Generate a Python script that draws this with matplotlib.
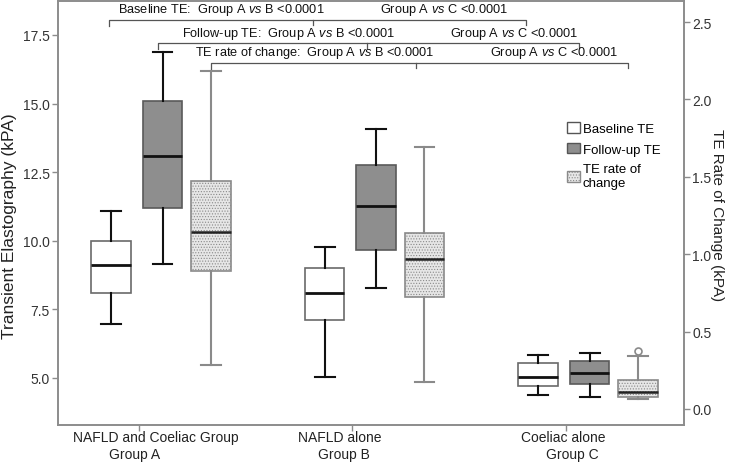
import matplotlib
matplotlib.use("Agg")
import matplotlib.pyplot as plt
from matplotlib.patches import Patch
from matplotlib import transforms

plt.rcParams['font.family'] = ['Liberation Sans', 'DejaVu Sans']
plt.rcParams['mathtext.fontset'] = 'custom'
plt.rcParams['mathtext.rm'] = 'Liberation Sans'
plt.rcParams['mathtext.it'] = 'Liberation Sans:italic'
plt.rcParams['hatch.linewidth'] = 0.5
plt.rcParams['hatch.color'] = '#b8b8b8'

GROUPS = ["NAFLD and Coeliac Group", "NAFLD alone", "Coeliac alone"]
GROUP_IDS = ["Group A", "Group B", "Group C"]
SERIES = ["Baseline TE", "Follow-up TE", "TE rate of\nchange"]

# whislo, q1, median, q3, whishi  -> left axis (kPA)
baseline = [[6.96, 8.09, 9.11, 9.98, 11.09],
            [5.03, 7.12, 8.11, 9.00, 9.76],
            [4.37, 4.72, 5.05, 5.55, 5.84]]
followup = [[9.17, 11.18, 13.09, 15.08, 16.89],
            [8.29, 9.68, 11.28, 12.76, 14.06],
            [4.30, 4.78, 5.17, 5.63, 5.91]]
# right axis (kPA change)
rate = [[0.286, 0.890, 1.143, 1.475, 2.185],
        [0.172, 0.724, 0.967, 1.139, 1.694],
        [0.065, 0.079, 0.112, 0.189, 0.344]]
rate_outliers = [[], [], [0.377]]

LEFT_TICKS = [5.0, 7.5, 10.0, 12.5, 15.0, 17.5]
RIGHT_TICKS = [0.0, 0.5, 1.0, 1.5, 2.0, 2.5]

# comparison annotations
ann_rows = [
    ("Baseline TE:  Group A $\\mathit{vs}$ B <0.0001", "Group A $\\mathit{vs}$ C <0.0001"),
    ("Follow-up TE:  Group A $\\mathit{vs}$ B <0.0001", "Group A $\\mathit{vs}$ C <0.0001"),
    ("TE rate of change:  Group A $\\mathit{vs}$ B <0.0001", "Group A $\\mathit{vs}$ C <0.0001"),
]

W, H = 730, 464


def fx(x):
    return x / W


def fy(y):
    return 1 - y / H


def make_stats(rows, fliers=None):
    out = []
    for i, r in enumerate(rows):
        out.append(dict(whislo=r[0], q1=r[1], med=r[2], q3=r[3], whishi=r[4],
                        fliers=fliers[i] if fliers else []))
    return out


fig = plt.figure(figsize=(7.3, 4.64), dpi=100)
ax = fig.add_axes([fx(58), 1 - 426 / H, 626 / W, 424 / H])
ax2 = ax.twinx()

grp = [0, 1, 2]
offs = [-0.13, 0.111, 0.337]
bw = 0.185

ax.bxp(make_stats(baseline), positions=[g + offs[0] for g in grp], widths=bw,
       patch_artist=True, manage_ticks=False,
       boxprops=dict(facecolor='white', edgecolor='#6a6a6a', linewidth=1.2),
       whiskerprops=dict(color='#111111', linewidth=1.5),
       capprops=dict(color='#111111', linewidth=1.5),
       medianprops=dict(color='#111111', linewidth=2))
ax.bxp(make_stats(followup), positions=[g + offs[1] for g in grp], widths=bw,
       patch_artist=True, manage_ticks=False,
       boxprops=dict(facecolor='#8e8e8e', edgecolor='#5a5a5a', linewidth=1.2),
       whiskerprops=dict(color='#111111', linewidth=1.5),
       capprops=dict(color='#111111', linewidth=1.5),
       medianprops=dict(color='#111111', linewidth=2))
ax2.bxp(make_stats(rate, rate_outliers), positions=[g + offs[2] for g in grp], widths=bw,
        patch_artist=True, manage_ticks=False,
        boxprops=dict(facecolor='#e6e6e6', edgecolor='#8a8a8a', linewidth=1.2, hatch='......'),
        whiskerprops=dict(color='#8a8a8a', linewidth=1.5),
        capprops=dict(color='#8a8a8a', linewidth=1.5),
        medianprops=dict(color='#222222', linewidth=1.8),
        flierprops=dict(marker='o', markerfacecolor='white', markeredgecolor='#8a8a8a',
                        markersize=5, markeredgewidth=1.2))

ax.set_xlim(-0.379, 2.553)
ax.set_ylim(3.287, 18.739)
ax2.set_ylim(-0.1034, 2.6357)

ax.set_xticks(grp)
ax.set_xticklabels([])
ax.set_yticks(LEFT_TICKS)
ax.set_yticklabels([f"{v:.1f}" for v in LEFT_TICKS])
ax2.set_yticks(RIGHT_TICKS)
ax2.set_yticklabels([f"{v:.1f}" for v in RIGHT_TICKS])

for a in (ax, ax2):
    for s in a.spines.values():
        s.set_color('#8c8c8c')
        s.set_linewidth(1.2)
    a.tick_params(direction='out', length=4, width=1, color='#8c8c8c',
                  labelsize=10, labelcolor='#333333', pad=2)

# axis titles
fig.text(fx(10), fy(226), "Transient Elastography (kPA)", rotation=90,
         ha='center', va='center', fontsize=12.5, color='#222222')
fig.text(fx(717), fy(215), "TE Rate of Change (kPA)", rotation=270,
         ha='center', va='center', fontsize=11, color='#222222')

# category labels
line1_x = [156, 340, 563]
line2_x = [135, 344, 572]
for i in grp:
    fig.text(fx(line1_x[i]), fy(438), GROUPS[i], ha='center', va='center',
             fontsize=10, color='#222222')
    fig.text(fx(line2_x[i]), fy(455), GROUP_IDS[i], ha='center', va='center',
             fontsize=10, color='#222222')

# legend
handles = [Patch(facecolor='white', edgecolor='#555555', label=SERIES[0]),
           Patch(facecolor='#8e8e8e', edgecolor='#555555', label=SERIES[1]),
           Patch(facecolor='#e6e6e6', edgecolor='#8a8a8a', hatch='......', label=SERIES[2])]
fig.legend(handles=handles, loc='upper left', bbox_to_anchor=(fx(567), fy(123)),
           frameon=False, fontsize=9.5, handlelength=1.0, handleheight=0.85,
           handletextpad=0.2, labelspacing=0.6, borderpad=0, borderaxespad=0)

# significance brackets (x in data, y in axes fraction)
tr = transforms.blended_transform_factory(ax.transData, ax.transAxes)


def yfrac(y):
    return (426 - y) / 424


brackets = [
    # (line y, [left, mid, right] x, end drop y)
    (21, [-0.1405, 0.815, 1.813], 27),
    (44, [0.089, 1.068, 2.061], 50),
    (64, [0.337, 1.297, 2.290], 71),
]
for ly, xs, dy in brackets:
    kw = dict(transform=tr, color='#555555', lw=0.9, clip_on=False)
    ax.plot([xs[0], xs[0], xs[2], xs[2]], [yfrac(dy), yfrac(ly), yfrac(ly), yfrac(ly + 5)], **kw)
    ax.plot([xs[1], xs[1]], [yfrac(ly), yfrac(ly + 5)], **kw)

text_pos = [((118, 10), (380, 10)), ((182, 34), (450, 34)), ((195, 53), (490, 53))]
for (t1, t2), (p1, p2) in zip(ann_rows, text_pos):
    fig.text(fx(p1[0]), fy(p1[1]), t1, ha='left', va='center', fontsize=9.2, color='#111111')
    fig.text(fx(p2[0]), fy(p2[1]), t2, ha='left', va='center', fontsize=9.2, color='#111111')

fig.savefig("out.png", dpi=100)
